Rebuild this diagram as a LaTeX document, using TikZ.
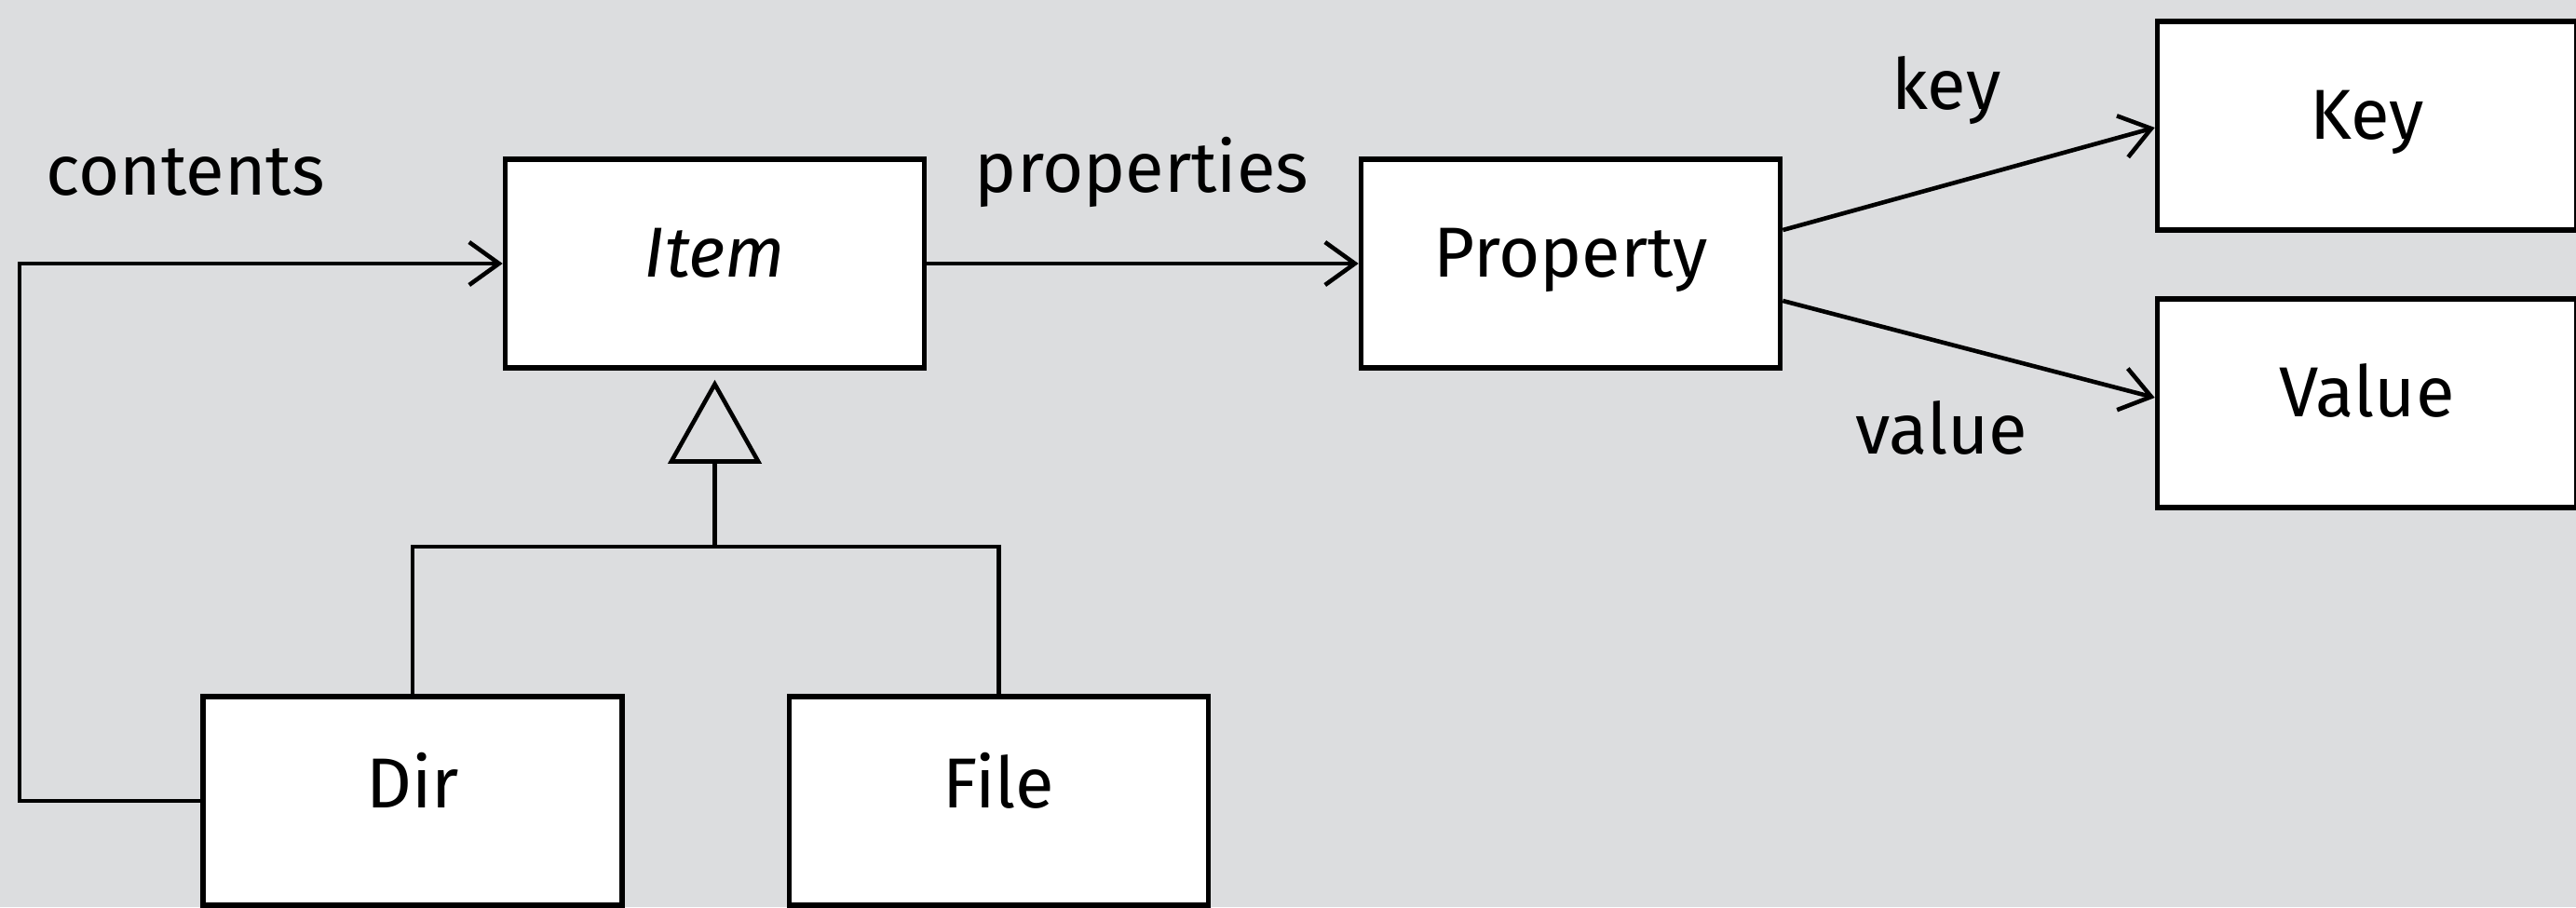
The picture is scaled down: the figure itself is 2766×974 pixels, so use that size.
\documentclass[tikz,border=0pt]{standalone}
\usepackage{fontspec}
\setmainfont{Fira Sans}
\usetikzlibrary{arrows.meta}
\definecolor{bg}{HTML}{DCDDDF}
\begin{document}
\begin{tikzpicture}[x=0.5pt,y=-0.5pt,
  font=\fontsize{38}{45}\selectfont,
  cls/.style={draw=black, fill=white, line width=2.8pt, minimum width=225pt, minimum height=112pt, inner sep=0pt, text height=27pt, text depth=13pt},
  low/.style={text depth=20pt},
  conn/.style={line width=2.3pt},
  arr/.style={conn, -{Straight Barb[length=16pt,width=23pt,line width=2.3pt]}},
  lbl/.style={inner sep=0pt}]
\fill[bg] (0,0) rectangle (2766,974);
\useasboundingbox (0,0) rectangle (2766,974);
\node[cls] (item) at (767.5,283) {\itshape Item};
\node[cls] (prop) at (1686.5,283) {Property};
\node[cls] (key) at (2541.5,135) {Key};
\node[cls] (val) at (2541.5,433) {Value};
\node[cls, low] (dir) at (443,860) {Dir};
\node[cls, low] (file) at (1072.5,860) {File};
\coordinate (loop) at (21,860);
\coordinate (junc) at (767.5,587);
\draw[arr] (dir.west) -- (loop) |- (item.west);
\draw[arr] (item.east) -- (prop.west);
\draw[arr] ([yshift=18pt]prop.east) -- ([yshift=-1pt]key.west);
\draw[arr] ([yshift=-20pt]prop.east) -- ([yshift=3pt]val.west);
\draw[conn] (dir.north) |- (junc) -| (file.north);
\draw[conn, -{Triangle[open, length=45pt, width=50pt, line width=2.3pt]}] (junc) -- ([yshift=-5pt]item.south);
\node[lbl] (lc) at (199,185) {contents};
\node[lbl] (lp) at (1226,185) {properties};
\node[lbl] (lk) at (2090,97) {key};
\node[lbl] (lv) at (2085,459) {value};
\end{tikzpicture}
\end{document}
